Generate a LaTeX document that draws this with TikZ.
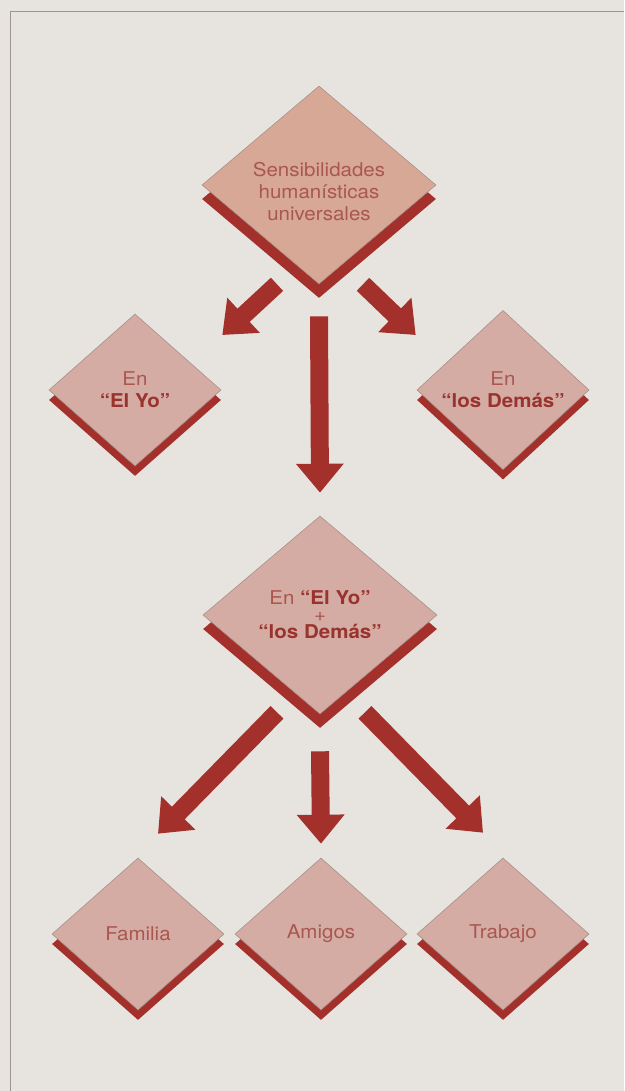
\documentclass[tikz,border=0pt]{standalone}
\usepackage{fontspec}
\setmainfont{TeX Gyre Heros}[FakeStretch=1.08]
\usepackage{tikz}
\usetikzlibrary{
  positioning, arrows.meta, shapes.geometric, calc, shadows,
}
\definecolor{cPaper}     {HTML}{E7E4DF}
\definecolor{cFrame}     {HTML}{9E968E}
\definecolor{cDiamond}   {HTML}{D4ACA4}
\definecolor{cDiamondTop}{HTML}{D8A896}
\definecolor{cEdge}      {HTML}{A89088}
\definecolor{cArrowRed}  {HTML}{A3302B}
\definecolor{cLabel}     {HTML}{A9574F}
\definecolor{cName}      {HTML}{9A322D}
\newcommand{\qname}[1]{\textbf{\color{cName}#1}}
\tikzset{
  dia/.style={shape=diamond, fill=cDiamond, draw=cEdge, line width=0.6pt,
    inner sep=0pt, align=center, text=cLabel, font=\fontsize{19}{22}\selectfont},
  bigdia/.style={dia, minimum width=234pt, minimum height=198pt,
    general shadow={shadow yshift=-14pt, fill=cArrowRed}},
  smalldia/.style={dia, minimum width=172pt, minimum height=152pt,
    general shadow={shadow yshift=-10pt, fill=cArrowRed}},
  bigarrow/.style={draw=cArrowRed, line width=18pt,
    -{Triangle[width=46pt, length=29pt]}},
}
\begin{document}
\begin{tikzpicture}[x=1pt, y=1pt]
  \fill[cPaper] (0,0) rectangle (624,-1091);
  \useasboundingbox (0,0) rectangle (624,-1091);
  \draw[cFrame, line width=0.8pt] (10,-1091) -- (10,-11) -- (624,-11);

  % diamonds
  \node[bigdia, fill=cDiamondTop, inner xsep=-20pt] (sens) at (319,-185)
    {\rule{0pt}{28pt}Sensibilidades\\humanísticas\\universales};
  \node[smalldia] (yo)  at (135,-390) {En\\\qname{“El Yo”}};
  \node[smalldia] (dem) at (503,-390) {En\\\qname{“los Demás”}};
  \node[bigdia] (mid) at (320,-615)
    {En \qname{“El Yo”}\\[-5pt]+\\[-5pt]\qname{“los Demás”}};
  \foreach \name/\x/\txt in {fam/138/Familia, ami/321/Amigos, tra/503/Trabajo}{
    \node[smalldia] (\name) at (\x,-934) {\txt};
  }

  % arrows
  \draw[bigarrow] ([xshift=-42pt]sens.south) -- ([shift={(1pt,55pt)}]yo.east);
  \draw[bigarrow] ([xshift=44pt]sens.south) -- ([shift={(-1pt,55pt)}]dem.west);
  \draw[bigarrow] ([yshift=-32pt]sens.south) -- ([yshift=23pt]mid.north);
  \draw[bigarrow] ([shift={(-43pt,2pt)}]mid.south) -- ([shift={(20pt,24pt)}]fam.north);
  \draw[bigarrow] ([yshift=-37pt]mid.south) -- ([yshift=14pt]ami.north);
  \draw[bigarrow] ([shift={(45pt,2pt)}]mid.south) -- ([shift={(-20pt,25pt)}]tra.north);
\end{tikzpicture}
\end{document}
